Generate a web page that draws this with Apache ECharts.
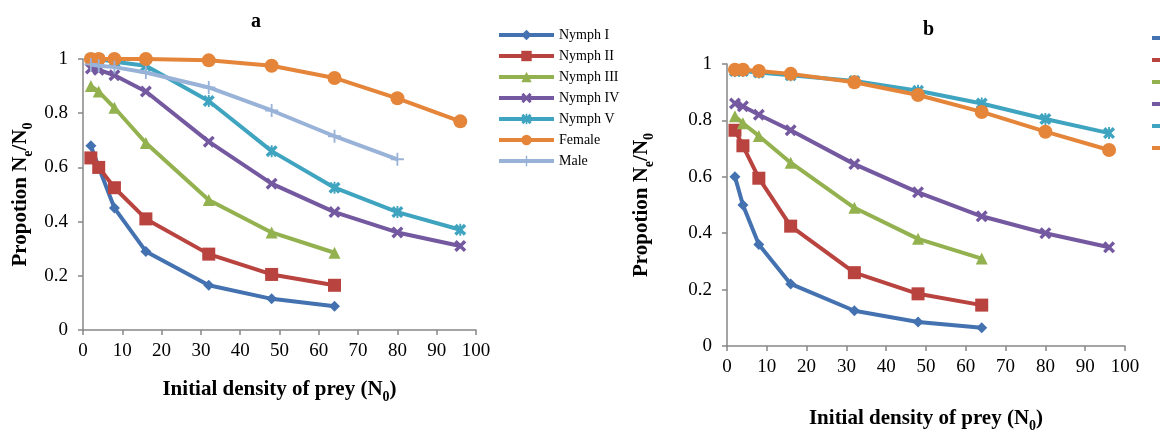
<!DOCTYPE html>
<html>
<head>
<meta charset="utf-8">
<script src="https://cdn.jsdelivr.net/npm/echarts@6/dist/echarts.min.js"></script>
<style>
  html, body { margin: 0; padding: 0; background: #fff; }
  #main { width: 1160px; height: 433px; }
</style>
</head>
<body>
<div id="main"></div>
<script>
// prey densities (N0)
var densA = [2, 4, 8, 16, 32, 48, 64, 80, 96];
var densB = [2, 4, 8, 16, 32, 48, 64, 80, 96];

var seriesNames = ['Nymph I', 'Nymph II', 'Nymph III', 'Nymph IV', 'Nymph V', 'Female', 'Male'];

// panel a - proportion eaten
var aNymph1 = [0.68, 0.60, 0.45, 0.29, 0.165, 0.115, 0.088];
var aNymph2 = [0.635, 0.60, 0.525, 0.41, 0.28, 0.205, 0.165];
var aNymph3 = [0.90, 0.88, 0.82, 0.69, 0.48, 0.36, 0.285];
var aNymph4 = [0.965, 0.96, 0.94, 0.88, 0.695, 0.54, 0.435, 0.36, 0.31];
var aNymph5 = [1.0, 1.0, 0.99, 0.975, 0.845, 0.66, 0.525, 0.435, 0.37];
var aFemale = [1.0, 1.0, 1.0, 1.0, 0.995, 0.975, 0.93, 0.855, 0.77];
var aMale   = [0.98, 0.975, 0.97, 0.95, 0.895, 0.81, 0.715, 0.63];

// panel b
var bNymph1 = [0.60, 0.50, 0.36, 0.22, 0.125, 0.085, 0.065];
var bNymph2 = [0.765, 0.71, 0.595, 0.425, 0.26, 0.185, 0.145];
var bNymph3 = [0.815, 0.79, 0.745, 0.65, 0.49, 0.38, 0.31];
var bNymph4 = [0.86, 0.85, 0.82, 0.765, 0.645, 0.545, 0.46, 0.40, 0.35];
var bNymph5 = [0.975, 0.975, 0.97, 0.96, 0.94, 0.905, 0.86, 0.805, 0.755];
var bFemale = [0.98, 0.98, 0.975, 0.965, 0.935, 0.89, 0.83, 0.76, 0.695];

var colors = ['#4472B0', '#B8433F', '#93B24F', '#7459A0', '#3FA4C0', '#E4853A', '#98B2D8'];

var symX = 'path://M2,0L5,3L8,0L10,2L7,5L10,8L8,10L5,7L2,10L0,8L3,5L0,2Z';
var symStar = 'path://M2,0L5,3L8,0L10,2L7,5L10,8L8,10L5,7L2,10L0,8L3,5L0,2Z M4.2,0L5.8,0L5.8,10L4.2,10Z';
var symPlus = 'path://M4.3,0H5.7V4.3H10V5.7H5.7V10H4.3V5.7H0V4.3H4.3Z';
var symbols = ['diamond', 'rect', 'triangle', symX, symStar, 'circle', symPlus];
var symSizes = [11, 13, 12, 12, 12, 14, 13];

var serif = '"Liberation Serif", "Times New Roman", serif';

function pairs(xs, ys) {
    var out = [];
    for (var i = 0; i < ys.length; i++) out.push([xs[i], ys[i]]);
    return out;
}

function mkSeries(idx, name, xs, ys, gi) {
    return {
        name: name,
        type: 'line',
        xAxisIndex: gi,
        yAxisIndex: gi,
        data: pairs(xs, ys),
        symbol: symbols[idx],
        symbolSize: symSizes[idx],
        showAllSymbol: true,
        lineStyle: { width: 4, color: colors[idx] },
        itemStyle: { color: colors[idx] },
        emphasis: { disabled: true },
        z: 2 + idx
    };
}

var axisGray = '#868686';
var subRich = { s: { fontFamily: serif, fontSize: 14, fontWeight: 'bold', verticalAlign: 'bottom', lineHeight: 28, padding: [10, 0, 0, 0] } };

function xAxisCfg(gi, gap) {
    return {
        type: 'value', gridIndex: gi, min: 0, max: 100, interval: 10,
        name: 'Initial density of prey (N{s|0})',
        nameLocation: 'middle', nameGap: gap,
        nameTextStyle: { fontFamily: serif, fontSize: 21, fontWeight: 'bold', color: '#000', rich: subRich },
        axisLine: { lineStyle: { color: axisGray, width: 1.5 } },
        axisTick: { show: true, inside: false, length: 5, lineStyle: { color: axisGray, width: 1.5 } },
        axisLabel: { fontFamily: serif, fontSize: 19, color: '#000', margin: 12 },
        splitLine: { show: false }
    };
}

function yAxisCfg(gi, gap) {
    return {
        type: 'value', gridIndex: gi, min: 0, max: 1, interval: 0.2,
        name: 'Propotion N{s|e}/N{s|0}',
        nameLocation: 'middle', nameGap: gap,
        nameTextStyle: { fontFamily: serif, fontSize: 21, fontWeight: 'bold', color: '#000', rich: subRich },
        axisLine: { show: true, lineStyle: { color: axisGray, width: 1.5 } },
        axisTick: { show: true, inside: false, length: 5, lineStyle: { color: axisGray, width: 1.5 } },
        axisLabel: {
            fontFamily: serif, fontSize: 19, color: '#000', margin: 15,
            formatter: function (v) { return String(Math.round(v * 10) / 10); }
        },
        splitLine: { show: false }
    };
}

var series = [];
var aData = [aNymph1, aNymph2, aNymph3, aNymph4, aNymph5, aFemale, aMale];
var bData = [bNymph1, bNymph2, bNymph3, bNymph4, bNymph5, bFemale];
for (var i = 0; i < aData.length; i++) series.push(mkSeries(i, seriesNames[i], densA, aData[i], 0));
for (var j = 0; j < bData.length; j++) series.push(mkSeries(j, seriesNames[j], densB, bData[j], 1));

var legendText = { fontFamily: serif, fontSize: 14, color: '#000' };

var chart = echarts.init(document.getElementById('main'), null, { renderer: 'canvas' });
chart.setOption({
    animation: false,
    backgroundColor: '#fff',
    title: [
        { text: 'a', left: 246, top: 7, textStyle: { fontFamily: serif, fontSize: 20, fontWeight: 'bold', color: '#000' } },
        { text: 'b', left: 918, top: 15, textStyle: { fontFamily: serif, fontSize: 20, fontWeight: 'bold', color: '#000' } }
    ],
    grid: [
        { left: 83, top: 59, width: 393, height: 271, outerBoundsMode: 'none', containLabel: false },
        { left: 727, top: 64, width: 398, height: 282, outerBoundsMode: 'none', containLabel: false }
    ],
    legend: [
        {
            orient: 'vertical', left: 492, top: 23, itemWidth: 55, itemHeight: 13, itemGap: 7,
            data: seriesNames, textStyle: legendText, selectedMode: false,
            lineStyle: { width: 4 }
        },
        {
            orient: 'vertical', left: 1145, top: 26, itemWidth: 55, itemHeight: 13, itemGap: 8,
            data: seriesNames.slice(0, 6), textStyle: legendText, selectedMode: false,
            lineStyle: { width: 4 }
        }
    ],
    xAxis: [xAxisCfg(0, 46), xAxisCfg(1, 59)],
    yAxis: [yAxisCfg(0, 48), yAxisCfg(1, 71)],
    series: series
});
</script>
</body>
</html>
